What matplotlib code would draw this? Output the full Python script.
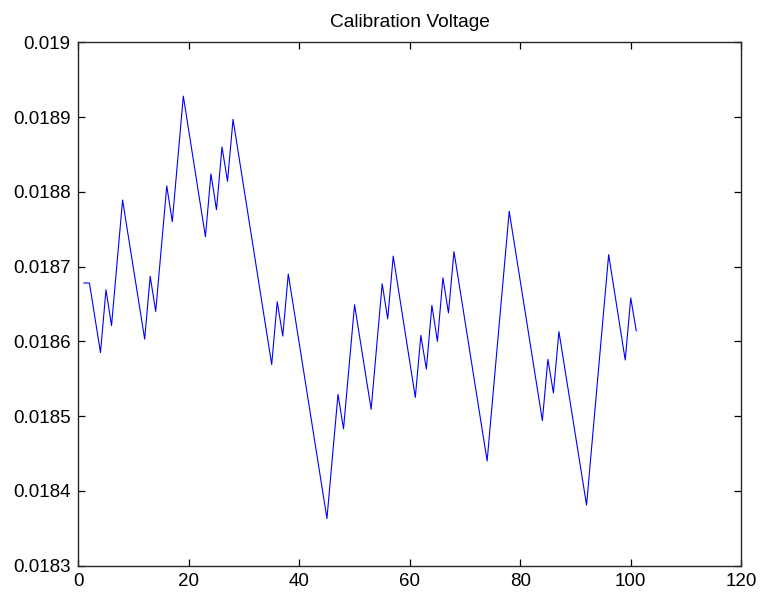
import matplotlib
matplotlib.use("Agg")
import matplotlib.pyplot as plt

# turning points of the trace (sample index, volts)
sample = [1, 2, 4, 5, 6, 8, 12, 13, 14, 16, 17, 19, 23, 24, 25, 26, 27, 28,
          35, 36, 37, 38, 45, 47, 48, 50, 53, 55, 56, 57, 61, 62, 63, 64, 65,
          66, 67, 68, 74, 78, 84, 85, 86, 87, 92, 96, 99, 100, 101]
volts = [0.018678, 0.018678, 0.018585, 0.018669, 0.018621, 0.018789,
         0.018603, 0.018687, 0.018640, 0.018808, 0.018760, 0.018928,
         0.018740, 0.018824, 0.018776, 0.018860, 0.018814, 0.018897,
         0.018569, 0.018653, 0.018607, 0.018690, 0.018363, 0.018529,
         0.018483, 0.018649, 0.018509, 0.018677, 0.018630, 0.018714,
         0.018525, 0.018608, 0.018563, 0.018648, 0.018600, 0.018685,
         0.018638, 0.018720, 0.018440, 0.018774, 0.018494, 0.018576,
         0.018531, 0.018613, 0.018381, 0.018716, 0.018575, 0.018658,
         0.018614]

xticks = [0, 20, 40, 60, 80, 100, 120]
yticks = [0.0183, 0.0184, 0.0185, 0.0186, 0.0187, 0.0188, 0.0189, 0.019]
ylabels = ["0.0183", "0.0184", "0.0185", "0.0186", "0.0187", "0.0188", "0.0189", "0.019"]

plt.rcParams['font.family'] = ['Liberation Sans', 'DejaVu Sans']

fig = plt.figure(figsize=(7.61, 5.96), dpi=100)
ax = fig.add_axes([0.103, 0.051, 0.871, 0.878])

ax.plot(sample, volts, color="#0000ff", linewidth=0.8)

ax.set_xlim(0, 120)
ax.set_ylim(0.0183, 0.019)
ax.set_xticks(xticks)
ax.set_yticks(yticks)
ax.set_yticklabels(ylabels)
ax.tick_params(direction="in", length=5, width=0.9, top=True, right=True,
               labelsize=13.5, colors="black")
ax.tick_params(axis="y", pad=5.5)
ax.tick_params(axis="x", pad=5)
for s in ax.spines.values():
    s.set_linewidth(1.0)
    s.set_color("#262626")

ax.set_title("Calibration Voltage", fontsize=13.8, pad=11)

fig.savefig("out.png", dpi=100)
